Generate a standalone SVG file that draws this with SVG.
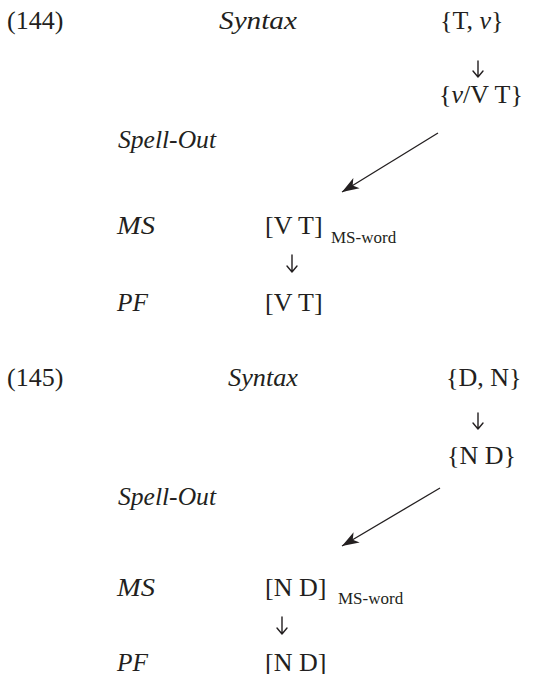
<svg xmlns="http://www.w3.org/2000/svg" width="543" height="674" viewBox="0 0 543 674">
<style>
text{font-family:"Liberation Serif","Times New Roman",serif;font-size:26px;fill:#231f20}
.i{font-style:italic}
.sub{font-size:17px}
.conn{stroke:#231f20;stroke-width:1.3;fill:none}
.dn{stroke:#231f20;stroke-width:1.4;fill:none;stroke-linecap:round;stroke-linejoin:round}
</style>
<defs>
<marker id="ah" viewBox="-17 -7 18 14" markerWidth="18" markerHeight="14" refX="0" refY="0" orient="auto" markerUnits="userSpaceOnUse">
<path d="M0,0 L-17,-6 L-12.5,0 L-17,6 Z" fill="#231f20"/>
</marker>
</defs>
<g id="ex144">
<g id="n144-label"><text x="7" y="29">(144)</text></g>
<g id="n144-syntax"><text x="219" y="29" class="i" textLength="78" lengthAdjust="spacingAndGlyphs">Syntax</text></g>
<g id="n144-tv"><text x="440" y="29">{T, <tspan class="i">v</tspan>}</text></g>
<g id="n144-vvt"><text x="439" y="103">{<tspan class="i">v</tspan>/V T}</text></g>
<g id="n144-spell"><text x="118" y="148" class="i" textLength="98" lengthAdjust="spacingAndGlyphs">Spell-Out</text></g>
<g id="n144-ms"><text x="117" y="234" class="i" textLength="38" lengthAdjust="spacingAndGlyphs">MS</text><text x="265" y="234">[V T]</text><text x="331" y="243" class="sub">MS-word</text></g>
<g id="n144-pf"><text x="117" y="311" class="i" textLength="31" lengthAdjust="spacingAndGlyphs">PF</text><text x="265" y="311">[V T]</text></g>
</g>
<g id="ex145">
<g id="n145-label"><text x="7" y="386">(145)</text></g>
<g id="n145-syntax"><text x="228" y="386" class="i" textLength="70" lengthAdjust="spacingAndGlyphs">Syntax</text></g>
<g id="n145-dn"><text x="446" y="386">{D, N}</text></g>
<g id="n145-nd"><text x="447" y="464">{N D}</text></g>
<g id="n145-spell"><text x="118" y="505" class="i" textLength="98" lengthAdjust="spacingAndGlyphs">Spell-Out</text></g>
<g id="n145-ms"><text x="117" y="596" class="i" textLength="38" lengthAdjust="spacingAndGlyphs">MS</text><text x="265" y="596">[N D]</text><text x="338" y="604" class="sub">MS-word</text></g>
<g id="n145-pf"><text x="117" y="671" class="i" textLength="31" lengthAdjust="spacingAndGlyphs">PF</text><text x="265" y="671">[N D]</text></g>
</g>
<g id="connectors">
<path class="dn" d="M478,61 V77 M473,71 L478,77 L483,71"/>
<path class="dn" d="M292,255 V272 M287,266 L292,272 L297,266"/>
<path class="dn" d="M478,413 V429 M473,423 L478,429 L483,423"/>
<path class="dn" d="M282,617 V634 M277,628 L282,634 L287,628"/>
<line class="conn" x1="438" y1="133" x2="342" y2="192" marker-end="url(#ah)"/>
<line class="conn" x1="440" y1="488" x2="342" y2="546" marker-end="url(#ah)"/>
</g>
</svg>
